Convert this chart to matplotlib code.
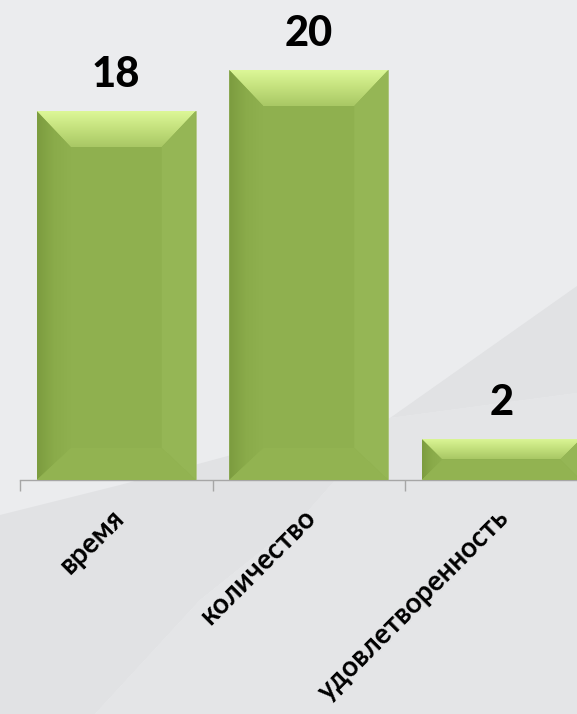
import matplotlib
matplotlib.use("Agg")
import matplotlib.pyplot as plt
from matplotlib.patches import Polygon
from matplotlib.colors import LinearSegmentedColormap
import numpy as np

# данные
categories = ["время", "количество", "удовлетворенность"]
values = [18, 20, 2]

plt.rcParams['font.family'] = ['Lato', 'DejaVu Sans']

fig = plt.figure(figsize=(5.77, 7.14), dpi=100)
fig.patch.set_facecolor("#ebecee")

# фоновые "волны"
W, H = 577, 714
def fig_poly(points, color):
    pts = [(x / W, 1 - y / H) for x, y in points]
    fig.patches.append(Polygon(pts, closed=True, transform=fig.transFigure,
                               facecolor=color, edgecolor="none", zorder=-10))

fig_poly([(0, 515), (120, 485), (250, 450), (390, 418), (577, 286), (577, 393),
          (390, 418), (300, 520), (200, 600), (95, 714), (0, 714)], "#e1e2e4")
fig_poly([(95, 714), (200, 600), (300, 520), (390, 418), (577, 393), (577, 714)], "#e4e5e7")

ax = fig.add_axes([20 / W, 1 - 480 / H, 1 - 20 / W, 480 / H])
ax.set_zorder(5)
ax.set_facecolor("none")

x = np.arange(len(categories))
width = 0.826
bars = ax.bar(x, values, width=width, color="#8fb04f", edgecolor="#b5c98a",
              linewidth=0.6, zorder=2)

# оси
for s in ["top", "right", "left"]:
    ax.spines[s].set_visible(False)
ax.spines["bottom"].set_color("#a6a6a6")
ax.spines["bottom"].set_linewidth(1.0)
ax.set_yticks([])
ax.set_xticks(np.arange(len(categories) + 1) - 0.5)
ax.set_xticklabels([])
ax.tick_params(axis="x", length=8, color="#a6a6a6", width=1.0)
ax.set_xlim(-0.5, -0.5 + (W - 20) / 192.5)
ax.set_ylim(0, 480 / 20.5)

top_cmap = LinearSegmentedColormap.from_list("top", ["#a9c865", "#c3e07c", "#dcf797"])
left_cmap = LinearSegmentedColormap.from_list("left", ["#7c9c3f", "#8aab4a", "#8fb04f"])

# фаски на столбиках
fig.canvas.draw()
inv = ax.transData.inverted()
for b in bars:
    x0, y0 = b.get_x(), b.get_y()
    x1, y1 = x0 + b.get_width(), y0 + b.get_height()
    (px0, py0), (px1, py1) = ax.transData.transform([(x0, y0), (x1, y1)])
    bev_t = min(36, (py1 - py0) / 2)
    bev_b = min(32, (py1 - py0) / 2)
    bev_s = min(34, (py1 - py0) / 2)
    (ix0, iy0), (ix1, iy1) = inv.transform([(px0 + bev_s, py0 + bev_b),
                                            (px1 - bev_s, py1 - bev_t)])
    # верх — градиент
    top = Polygon([(x0, y1), (x1, y1), (ix1, iy1), (ix0, iy1)], closed=True,
                  facecolor="none", edgecolor="none")
    ax.add_patch(top)
    im = ax.imshow(np.linspace(0, 1, 50).reshape(-1, 1), cmap=top_cmap,
                   extent=(x0, x1, iy1, y1), origin="lower", aspect="auto",
                   zorder=3, interpolation="bilinear")
    im.set_clip_path(top)
    # лево — градиент
    left = Polygon([(x0, y0), (x0, y1), (ix0, iy1), (ix0, iy0)], closed=True,
                   facecolor="none", edgecolor="none")
    ax.add_patch(left)
    im2 = ax.imshow(np.linspace(0, 1, 50).reshape(1, -1), cmap=left_cmap,
                    extent=(x0, ix0, y0, y1), origin="lower", aspect="auto",
                    zorder=3, interpolation="bilinear")
    im2.set_clip_path(left)
    ax.add_patch(Polygon([(x1, y0), (x1, y1), (ix1, iy1), (ix1, iy0)], closed=True,
                         facecolor="#95b655", edgecolor="none", zorder=3))
    ax.add_patch(Polygon([(x0, y0), (x1, y0), (ix1, iy0), (ix0, iy0)], closed=True,
                         facecolor="#92b351", edgecolor="none", zorder=3))

ax.set_xlim(-0.5, -0.5 + (W - 20) / 192.5)
ax.set_ylim(0, 480 / 20.5)

# подписи значений
for xi, v in zip(x, values):
    ax.annotate(str(v), (xi, v), xytext=(0, 17), textcoords="offset points",
                ha="center", va="baseline", fontsize=30, fontweight="black",
                color="black", zorder=4)

for xi, c in zip(x, categories):
    ax.annotate(c, (xi, 0), xytext=(1, -23), textcoords="offset points",
                ha="right", va="center_baseline", rotation=45, rotation_mode="anchor",
                fontsize=20, fontweight="bold", color="black", annotation_clip=False)

fig.savefig("out.png", dpi=100, facecolor=fig.get_facecolor())
